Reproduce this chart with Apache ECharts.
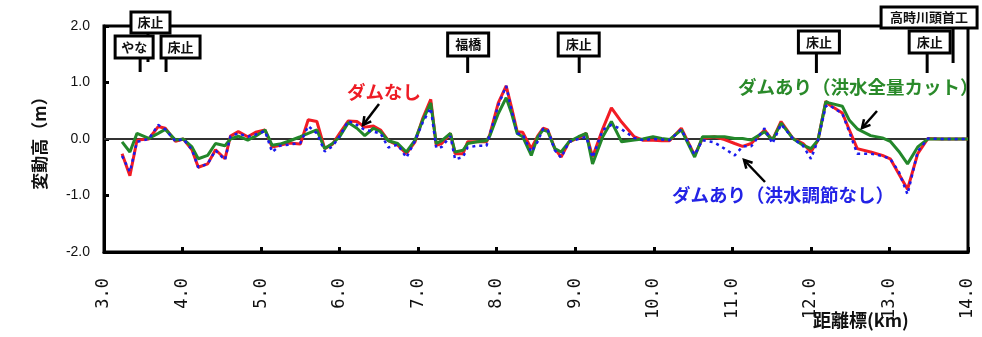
<!DOCTYPE html>
<html>
<head>
<meta charset="utf-8">
<script src="https://cdn.jsdelivr.net/npm/echarts@6/dist/echarts.min.js"></script>
<style>
html, body { margin: 0; padding: 0; background: #fff; }
#main { width: 982px; height: 337px; }
</style>
</head>
<body>
<div id="main"></div>
<script>
// ============================= データ =============================

// 距離標 (km)
const distKm = [
    3.23, 3.33, 3.42, 3.57, 3.69, 3.78, 3.91, 4.01, 4.12, 4.20,
    4.32, 4.42, 4.54, 4.61, 4.71, 4.83, 4.93, 5.05, 5.14, 5.24,
    5.35, 5.50, 5.60, 5.71, 5.81, 5.91, 6.00, 6.11, 6.22, 6.32,
    6.43, 6.52, 6.62, 6.74, 6.85, 6.96, 7.06, 7.16, 7.23, 7.30,
    7.41, 7.47, 7.57, 7.63, 7.75, 7.87, 7.91, 8.02, 8.12, 8.19,
    8.26, 8.33, 8.44, 8.52, 8.59, 8.65, 8.74, 8.82, 8.92, 9.04,
    9.14, 9.22, 9.35, 9.46, 9.59, 9.75, 9.86, 9.99, 10.10, 10.20,
    10.35, 10.52, 10.62, 10.77, 10.90, 11.03, 11.13, 11.24, 11.41, 11.51,
    11.62, 11.77, 11.90, 12.00, 12.09, 12.19, 12.23, 12.40, 12.49, 12.59,
    12.76, 12.91, 13.01, 13.12, 13.23, 13.36, 13.49, 13.66, 13.83, 14.00
];

// ダムなし (m)
const damNone = [
    -0.26, -0.65, -0.02, 0.00, 0.22, 0.19, -0.04, 0.00, -0.19, -0.50,
    -0.44, -0.19, -0.35, 0.05, 0.13, 0.04, 0.12, 0.16, -0.14, -0.11,
    -0.07, -0.09, 0.34, 0.31, -0.17, -0.09, 0.10, 0.32, 0.31, 0.21,
    0.23, 0.16, -0.03, -0.11, -0.26, -0.05, 0.37, 0.70, -0.11, -0.08,
    0.10, -0.26, -0.26, -0.05, -0.05, -0.05, 0.07, 0.64, 0.94, 0.55,
    0.13, 0.12, -0.17, 0.05, 0.19, 0.16, -0.17, -0.32, -0.05, 0.02,
    0.10, -0.32, 0.18, 0.55, 0.30, 0.04, -0.02, -0.02, -0.03, -0.03,
    0.19, -0.29, 0.01, 0.04, -0.01, -0.08, -0.13, -0.08, 0.16, -0.02,
    0.31, 0.01, -0.08, -0.23, -0.02, 0.67, 0.61, 0.46, 0.16, -0.17,
    -0.23, -0.29, -0.35, -0.62, -0.89, -0.26, 0.01, 0.00, 0.00, 0.00
];

// ダムあり（洪水全量カット） (m)
const damFullCut = [
    -0.05, -0.23, 0.10, 0.01, 0.10, 0.17, -0.02, 0.00, -0.14, -0.35,
    -0.29, -0.08, -0.12, 0.00, 0.05, -0.02, 0.05, 0.16, -0.11, -0.09,
    -0.04, 0.04, 0.10, 0.16, -0.17, -0.08, 0.04, 0.29, 0.19, 0.06,
    0.19, 0.13, -0.03, -0.08, -0.23, -0.02, 0.34, 0.64, -0.08, -0.03,
    0.10, -0.23, -0.20, -0.08, -0.05, -0.03, 0.05, 0.45, 0.73, 0.45,
    0.10, 0.04, -0.29, 0.03, 0.16, 0.13, -0.17, -0.23, -0.05, 0.04,
    0.10, -0.44, 0.04, 0.31, -0.05, -0.02, 0.00, 0.04, 0.01, -0.01,
    0.16, -0.32, 0.04, 0.04, 0.04, 0.01, 0.01, -0.02, 0.13, -0.02,
    0.28, 0.01, -0.11, -0.17, -0.02, 0.66, 0.64, 0.58, 0.33, 0.18,
    0.06, 0.02, -0.04, -0.22, -0.44, -0.14, 0.00, 0.00, 0.00, 0.00
];

// ダムあり（洪水調節なし） (m)
const damNoControl = [
    -0.30, -0.58, -0.05, 0.00, 0.25, 0.17, -0.04, 0.00, -0.19, -0.50,
    -0.44, -0.20, -0.37, 0.05, 0.10, 0.04, 0.08, 0.14, -0.23, -0.12,
    -0.10, -0.07, 0.23, 0.10, -0.22, -0.13, 0.05, 0.32, 0.25, 0.16,
    0.13, 0.10, -0.15, -0.10, -0.33, -0.03, 0.30, 0.55, -0.16, -0.14,
    0.05, -0.36, -0.32, -0.15, -0.12, -0.12, 0.07, 0.60, 0.94, 0.50,
    0.10, 0.08, -0.23, -0.05, 0.18, 0.16, -0.20, -0.33, -0.05, 0.00,
    0.04, -0.33, 0.16, 0.25, 0.17, 0.02, -0.02, 0.00, -0.01, -0.02,
    0.17, -0.28, -0.02, -0.06, -0.17, -0.29, -0.13, -0.13, 0.19, -0.08,
    0.26, 0.01, -0.12, -0.35, -0.02, 0.58, 0.60, 0.45, 0.12, -0.26,
    -0.26, -0.30, -0.35, -0.58, -0.98, -0.22, 0.01, 0.00, 0.00, 0.00
];

// 構造物 (名称と距離標)
const structNames = ['やな', '床止', '床止', '福橋', '床止', '床止', '床止', '高時川頭首工'];
const structKm = [3.46, 3.56, 3.79, 7.63, 9.05, 12.07, 13.48, 13.81];

// =============================全局属性===============================

const JP = '"Noto Sans CJK JP", "Noto Sans CJK SC", sans-serif';

function pairs(vals) {
    return distKm.map((x, i) => [x, vals[i]]);
}

let option = {
    backgroundColor: '#fff',
    animation: false,
    grid: {
        left: 104, right: 14, top: 26, bottom: 85,
        outerBoundsMode: 'none',
        containLabel: false,
        show: true,
        borderColor: '#000',
        borderWidth: 3
    },
    xAxis: {
        type: 'value',
        min: 3, max: 14, interval: 1,
        axisLine: { onZero: false, lineStyle: { color: '#000', width: 3 } },
        axisTick: { inside: true, length: 5, lineStyle: { color: '#000', width: 3 } },
        splitLine: { show: false },
        axisLabel: {
            rotate: 90,
            margin: 26,
            color: '#111',
            fontSize: 17,
            fontFamily: '"DejaVu Sans Mono", monospace',
            formatter: v => v.toFixed(1)
        }
    },
    yAxis: {
        type: 'value',
        min: -2, max: 2, interval: 1,
        name: '変動高（m）',
        nameLocation: 'middle',
        nameGap: 56,
        nameRotate: 90,
        nameTextStyle: { color: '#111', fontSize: 17, fontWeight: 'bold', fontFamily: JP },
        axisLine: { lineStyle: { color: '#000', width: 3 } },
        axisTick: { inside: true, length: 5, lineStyle: { color: '#000', width: 3 } },
        splitLine: { show: false },
        axisLabel: {
            margin: 14,
            color: '#111',
            fontSize: 14,
            fontFamily: 'Arial, "Liberation Sans", sans-serif',
            formatter: v => v.toFixed(1)
        }
    },
    series: [
        {
            name: 'zero',
            type: 'line',
            data: [[3, 0], [14, 0]],
            showSymbol: false,
            silent: true,
            lineStyle: { color: '#333', width: 2 },
            z: 1
        },
        {
            name: 'ダムなし',
            type: 'line',
            data: pairs(damNone),
            showSymbol: false,
            lineStyle: { color: '#f21c24', width: 3 },
            z: 2
        },
        {
            name: 'ダムあり（洪水全量カット）',
            type: 'line',
            data: pairs(damFullCut),
            showSymbol: false,
            lineStyle: { color: '#23872a', width: 3 },
            z: 3
        },
        {
            name: 'ダムあり（洪水調節なし）',
            type: 'line',
            data: pairs(damNoControl),
            showSymbol: false,
            lineStyle: { color: '#1a1aee', width: 2.5, type: [3, 4] },
            z: 4
        }
    ]
};

// =============================设置属性===============================

let chart = echarts.init(document.getElementById('main'), null, { renderer: 'canvas' });
chart.setOption(option);

// 構造物ボックスの配置 (引出線x基準のずれ, 上端, 高さ, 幅, 引出線下端)
const boxLayout = [
    { dx: -25, top: 36, h: 22, w: 38, end: 72 },
    { dx: -17, top: 12, h: 21, w: 39, end: 62 },
    { dx: -5,  top: 36, h: 22, w: 39, end: 72 },
    { dx: -20, top: 33, h: 23, w: 41, end: 73 },
    { dx: -21, top: 33, h: 23, w: 41, end: 73 },
    { dx: -18, top: 31, h: 22, w: 41, end: 73 },
    { dx: -18, top: 31, h: 22, w: 41, end: 73 },
    { dx: -72, top: 7,  h: 21, w: 96, end: 63 }
];

let graphics = [];

// 引出線
structKm.forEach((km, i) => {
    const x = chart.convertToPixel({ gridIndex: 0 }, [km, 0])[0];
    const b = boxLayout[i];
    graphics.push({
        type: 'line',
        shape: { x1: x, y1: b.top + b.h, x2: x, y2: b.end },
        style: { stroke: '#000', lineWidth: 3 },
        z: 100
    });
});

// ボックスと名称
structKm.forEach((km, i) => {
    const x = chart.convertToPixel({ gridIndex: 0 }, [km, 0])[0];
    const b = boxLayout[i];
    graphics.push({
        type: 'rect',
        shape: { x: x + b.dx, y: b.top, width: b.w, height: b.h },
        style: { fill: '#fff', stroke: '#000', lineWidth: 3 },
        z: 101
    });
    graphics.push({
        type: 'text',
        x: x + b.dx + b.w / 2,
        y: b.top + b.h / 2,
        style: {
            text: structNames[i],
            fill: '#111',
            fontSize: 13,
            fontWeight: 'bold',
            fontFamily: JP,
            align: 'center',
            verticalAlign: 'middle',
            textAlign: 'center',
            textVerticalAlign: 'middle'
        },
        z: 102
    });
});

// 系列ラベル
function label(text, x, y, color, size) {
    return {
        type: 'text',
        x: x, y: y,
        style: {
            text: text,
            fill: color,
            fontSize: size,
            fontWeight: 'bold',
            fontFamily: JP
        },
        z: 102
    };
}

function arrow(x1, y1, x2, y2) {
    const ang = Math.atan2(y2 - y1, x2 - x1);
    const len = 9, spread = 0.5;
    const p1 = [x2 - len * Math.cos(ang - spread), y2 - len * Math.sin(ang - spread)];
    const p2 = [x2 - len * Math.cos(ang + spread), y2 - len * Math.sin(ang + spread)];
    return [
        {
            type: 'line',
            shape: { x1: x1, y1: y1, x2: x2, y2: y2 },
            style: { stroke: '#000', lineWidth: 2.5 },
            z: 102
        },
        {
            type: 'polyline',
            shape: { points: [p1, [x2, y2], p2] },
            style: { stroke: '#000', lineWidth: 2.5, fill: null },
            z: 102
        }
    ];
}

graphics.push(label('ダムなし', 347, 83, '#ee1c25', 18.5));
graphics.push(label('ダムあり（洪水全量カット）', 738, 78, '#2a8a2a', 18.5));
graphics.push(label('ダムあり（洪水調節なし）', 672, 186, '#2323e6', 18.5));
graphics.push(label('距離標(km)', 813, 311, '#111', 18));
graphics = graphics.concat(arrow(379, 104, 363, 125));
graphics = graphics.concat(arrow(877, 111, 862, 128));
graphics = graphics.concat(arrow(765, 182, 744, 160));

chart.setOption({ graphic: graphics });
</script>
</body>
</html>
